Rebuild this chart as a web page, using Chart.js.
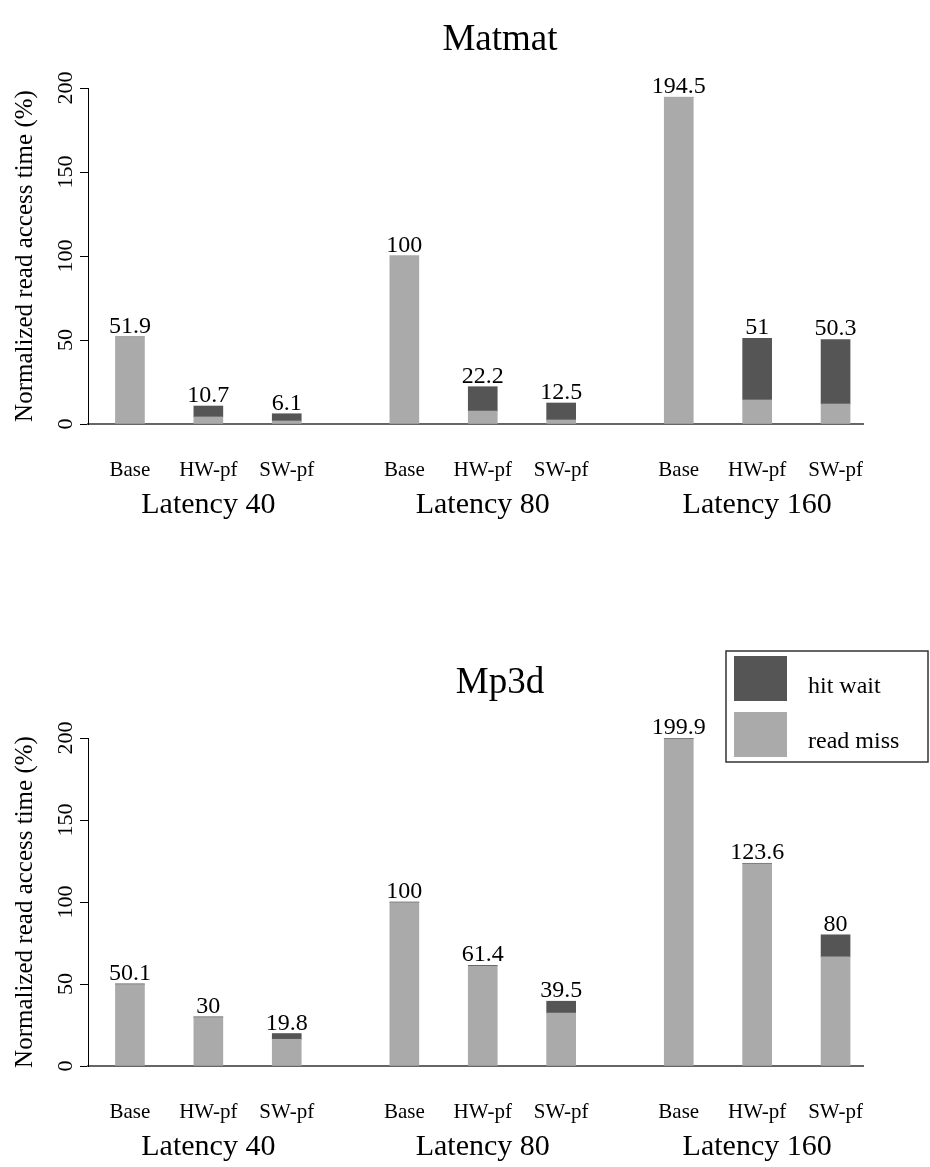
<!DOCTYPE html>
<html>
<head>
<meta charset="utf-8">
<script src="https://cdn.jsdelivr.net/npm/chart.js@4/dist/chart.umd.min.js"></script>
<style>
  body { margin: 0; background: #fff; }
  .panel { position: absolute; left: 0; width: 930px; }
</style>
</head>
<body>
<div class="panel" style="top:0;height:583px"><canvas id="matmat-chart" width="930" height="583"></canvas></div>
<div class="panel" style="top:583px;height:584px"><canvas id="mp3d-chart" width="930" height="584"></canvas></div>
<script>
// --- Data ---
const categories = ['Base', 'HW-pf', 'SW-pf', 'Base', 'HW-pf', 'SW-pf', 'Base', 'HW-pf', 'SW-pf'];
const latencies = ['Latency 40', 'Latency 80', 'Latency 160'];
// slot positions on the x axis (gap between latency groups)
const xSlots = [0, 2, 4, 7, 9, 11, 14, 16, 18];
const yTicks = [0, 50, 100, 150, 200];

// total read access time (printed above each bar) and its read-miss part
const matmatTotal = [51.9, 10.7, 6.1, 100, 22.2, 12.5, 194.5, 51, 50.3];
const matmatMiss = [51.9, 4.2, 1.8, 100, 7.7, 2.4, 194.5, 14.3, 11.9];
const mp3dTotal = [50.1, 30, 19.8, 100, 61.4, 39.5, 199.9, 123.6, 80];
const mp3dMiss = [49.7, 29.6, 16.3, 99.6, 61.0, 32.3, 199.5, 123.2, 66.5];

const HIT_COLOR = '#555555';
const MISS_COLOR = '#aaaaaa';
const SERIF = "'Liberation Serif', 'DejaVu Serif', serif";

Chart.defaults.font.family = SERIF;
Chart.defaults.color = '#000';

// Draws rotated y tick labels, bar totals, group names, title and legend.
const annotations = {
    id: 'annotations',
    afterDraw(chart, args, opts) {
        const { ctx, scales: { x, y } } = chart;
        ctx.save();
        ctx.fillStyle = '#000';

        // y tick labels, rotated
        ctx.font = `22px ${SERIF}`;
        ctx.textAlign = 'center';
        ctx.textBaseline = 'middle';
        yTicks.forEach(v => {
            ctx.save();
            ctx.translate(66, y.getPixelForValue(v));
            ctx.rotate(-Math.PI / 2);
            ctx.fillText(String(v), 0, 0);
            ctx.restore();
        });

        // totals above the bars
        ctx.font = `24px ${SERIF}`;
        ctx.textBaseline = 'alphabetic';
        opts.totals.forEach((v, i) => {
            ctx.fillText(String(v), x.getPixelForValue(xSlots[i]), y.getPixelForValue(v) - 4);
        });

        // latency group names under the middle bar of each group
        ctx.font = `30px ${SERIF}`;
        ctx.textBaseline = 'middle';
        latencies.forEach((name, g) => {
            ctx.fillText(name, x.getPixelForValue(xSlots[g * 3 + 1]), y.bottom + 81);
        });

        // panel title
        ctx.font = `37px ${SERIF}`;
        ctx.fillText(opts.title, 500, opts.titleY);

        if (opts.legend) {
            const lx = 726, ly = y.top - 87;
            ctx.strokeStyle = '#333';
            ctx.lineWidth = 1.5;
            ctx.strokeRect(lx, ly, 202, 111);
            ctx.fillStyle = HIT_COLOR;
            ctx.fillRect(lx + 8, ly + 5, 53, 45);
            ctx.fillStyle = MISS_COLOR;
            ctx.fillRect(lx + 8, ly + 61, 53, 45);
            ctx.fillStyle = '#000';
            ctx.font = `24px ${SERIF}`;
            ctx.textAlign = 'left';
            ctx.fillText('hit wait', lx + 82, ly + 36);
            ctx.fillText('read miss', lx + 82, ly + 91);
        }
        ctx.restore();
    }
};

function buildChart(id, title, totals, miss, areaTop, areaBottom, titleY, legend) {
    const canvas = document.getElementById(id);
    const points = arr => arr.map((v, i) => ({ x: xSlots[i], y: v }));
    const hit = totals.map((t, i) => +(t - miss[i]).toFixed(2));
    return new Chart(canvas.getContext('2d'), {
        type: 'bar',
        data: {
            datasets: [
                { label: 'read miss', data: points(miss), backgroundColor: MISS_COLOR },
                { label: 'hit wait', data: points(hit), backgroundColor: HIT_COLOR },
            ],
        },
        options: {
            responsive: false,
            animation: false,
            barThickness: 29,
            layout: { padding: { top: areaTop, right: 67, bottom: 0, left: 0 } },
            plugins: {
                legend: { display: false },
                tooltip: { enabled: false },
                annotations: { totals, title, titleY, legend },
            },
            scales: {
                x: {
                    type: 'linear',
                    stacked: true,
                    offset: false,
                    min: -1.07,
                    max: 18.7,
                    afterBuildTicks: axis => { axis.ticks = xSlots.map(v => ({ value: v })); },
                    afterFit: axis => { axis.height = canvas.height - areaBottom; },
                    ticks: {
                        autoSkip: false,
                        maxRotation: 0,
                        padding: 34,
                        font: { size: 21 },
                        callback: (v, i) => categories[i],
                    },
                    grid: { display: false, drawTicks: false },
                    border: { color: '#666', width: 2 },
                },
                y: {
                    stacked: true,
                    min: 0,
                    max: 200,
                    afterBuildTicks: axis => { axis.ticks = yTicks.map(v => ({ value: v })); },
                    afterFit: axis => { axis.width = 88; },
                    ticks: { color: 'rgba(0,0,0,0)', font: { size: 22 } },
                    grid: { drawOnChartArea: false, drawTicks: true, tickLength: 8, color: '#000' },
                    border: { color: '#000', width: 1 },
                    title: {
                        display: true,
                        text: 'Normalized read access time (%)',
                        font: { size: 25 },
                        padding: { top: 10, bottom: 0 },
                    },
                },
            },
        },
        plugins: [annotations],
    });
}

const matmatChart = buildChart('matmat-chart', 'Matmat', matmatTotal, matmatMiss, 88, 424, 40, false);
const mp3dChart = buildChart('mp3d-chart', 'Mp3d', mp3dTotal, mp3dMiss, 155, 483, 100, true);
</script>
</body>
</html>
